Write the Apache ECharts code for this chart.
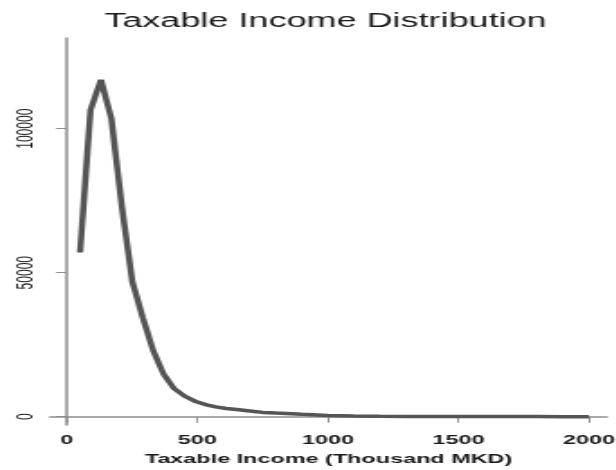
<!DOCTYPE html>
<html>
<head>
<meta charset="utf-8">
<script src="https://cdn.jsdelivr.net/npm/echarts@6/dist/echarts.min.js"></script>
<style>
  * { margin: 0; padding: 0; }
  body { background: #fff; overflow: hidden; width: 616px; height: 470px; }
  /* the reference picture is stretched sideways, so the chart is drawn narrow and scaled */
  #chart-container {
    width: 342px;
    height: 470px;
    transform: scaleX(1.8);
    transform-origin: 0 0;
  }
</style>
</head>
<body>
<div id="chart-container"></div>
<script>
  // taxable income (thousand MKD) and number of taxpayers
  var incomeK = [50, 90, 130, 170, 210, 250, 290, 330, 370, 410, 450, 490, 530, 570, 610, 650, 700, 750, 800, 900, 1000, 1100, 1200, 1300, 1400, 1500, 1600, 1700, 1800, 1900, 2000]
  var taxpayers = [57000, 106500, 117000, 103500, 73000, 47000, 34500, 23000, 14800, 9800, 7200, 5400, 4200, 3400, 2850, 2500, 2000, 1500, 1250, 830, 420, 250, 150, 100, 80, 60, 50, 40, 30, 25, 20]
  var xTicks = [0, 500, 1000, 1500, 2000]
  var yTicks = [0, 50000, 100000]

  var font = 'Liberation Sans, Arial, sans-serif'
  var axisGray = '#8f8f8f'
  var textColor = '#1a1a1a'

  var chartDom = document.getElementById('chart-container')
  var myChart = echarts.init(chartDom, null, { renderer: 'canvas' })

  var points = incomeK.map(function (x, i) {
    return [x, taxpayers[i]]
  })

  function plain(v) {
    return String(v)
  }

  var option = {
    animation: false,
    backgroundColor: '#fff',
    title: {
      text: 'Taxable Income Distribution',
      left: 58,
      top: 11,
      padding: 0,
      textStyle: {
        fontFamily: font,
        fontSize: 20,
        fontWeight: 'normal',
        color: textColor,
      },
    },
    grid: {
      left: 27.8,
      right: 4.8,
      top: 38,
      bottom: 45,
      containLabel: false,
      outerBoundsMode: 'none',
    },
    xAxis: {
      type: 'value',
      min: -65,
      max: 2069,
      name: 'Taxable Income (Thousand MKD)',
      nameLocation: 'middle',
      nameGap: 28,
      nameTextStyle: { fontFamily: font, fontSize: 13, fontWeight: 'bold', color: textColor },
      axisLine: { show: true, lineStyle: { color: axisGray, width: 1.5 } },
      axisTick: { show: true, customValues: xTicks, length: 6, lineStyle: { color: axisGray, width: 1 } },
      axisLabel: { customValues: xTicks, formatter: plain, fontFamily: font, fontSize: 13, fontWeight: 'bold', color: textColor, margin: 9 },
      splitLine: { show: false },
    },
    yAxis: {
      type: 'value',
      min: -2880,
      max: 131500,
      axisLine: { show: true, lineStyle: { color: axisGray, width: 1.5 } },
      axisTick: { show: true, customValues: yTicks, length: 6, lineStyle: { color: axisGray, width: 1 } },
      axisLabel: { customValues: yTicks, formatter: plain, rotate: 90, fontFamily: font, fontSize: 12, color: textColor, margin: 7 },
      splitLine: { show: false },
    },
    series: [
      {
        type: 'line',
        data: points,
        showSymbol: false,
        smooth: false,
        lineStyle: { color: '#555', width: 3.5 },
      },
    ],
  }
  myChart.setOption(option)
</script>
</body>
</html>
